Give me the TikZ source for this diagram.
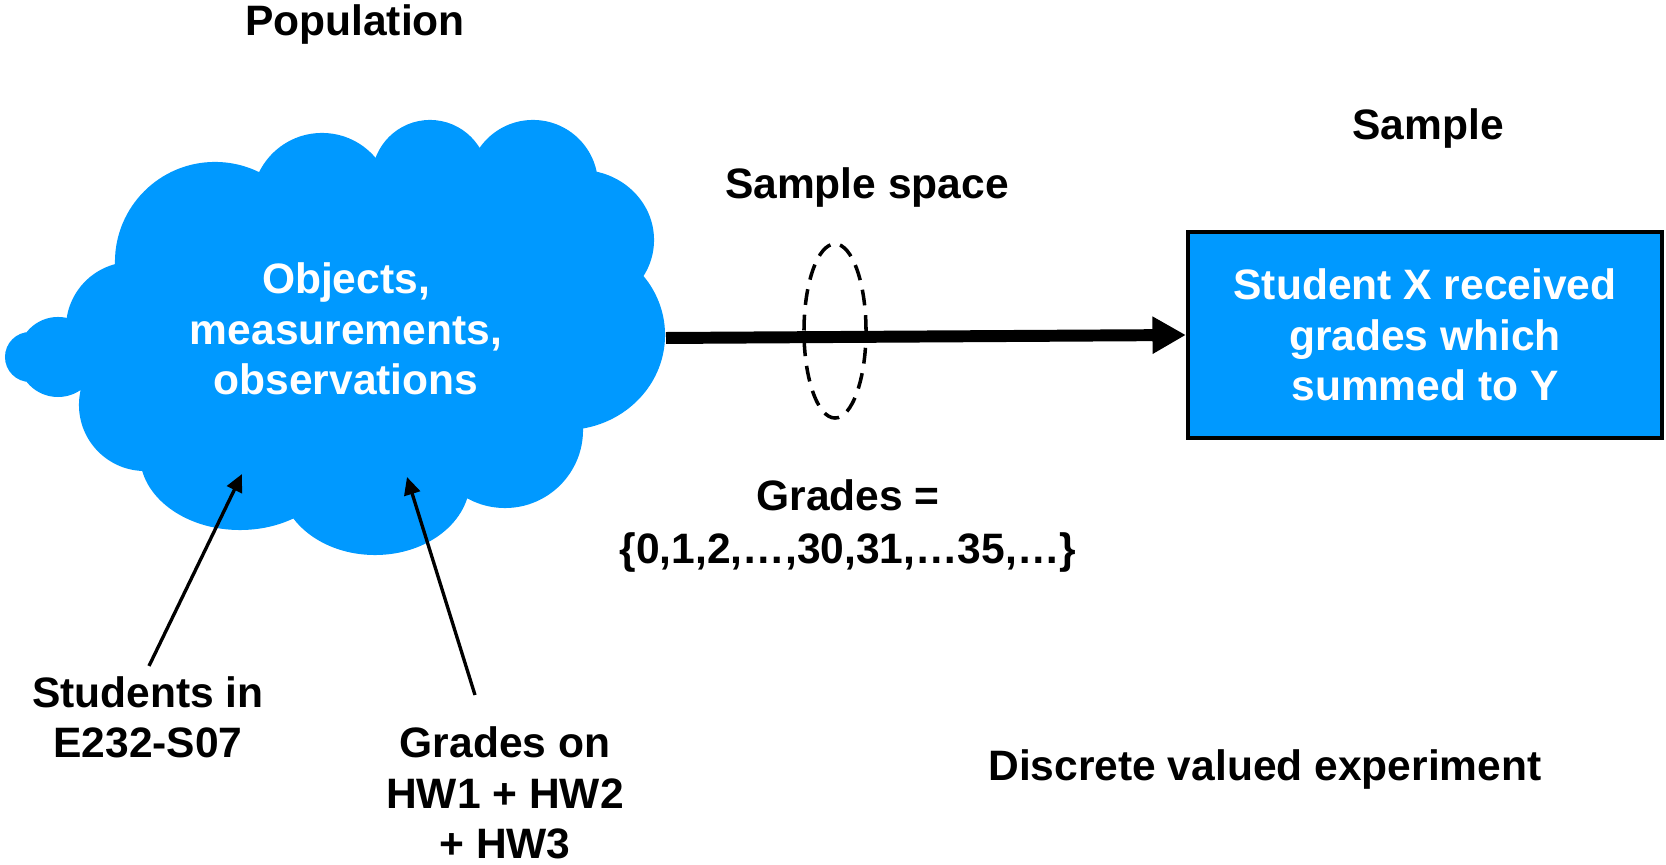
\documentclass[tikz,border=0pt]{standalone}
\usepackage{fontspec}
\setmainfont{Liberation Sans}
\usetikzlibrary{arrows.meta,shapes.geometric}
\definecolor{cloudblue}{RGB}{0,153,255}
\begin{document}
\begin{tikzpicture}[x=0.01cm,y=-0.01cm,
  lbl/.style={font=\fontsize{12.1}{14.3}\selectfont\bfseries, align=center, inner sep=0pt},
  wlbl/.style={lbl, text=white},
  thinarrow/.style={-{Triangle[length=5pt,width=4.6pt]}, line width=0.95pt},
  bigarrow/.style={-{Triangle[length=9.5pt,width=10pt]}, line width=3.4pt},
  dashell/.style={ellipse, draw=black, dash pattern=on 4.5pt off 2.8pt, line width=1pt, inner sep=0pt},
  bluebox/.style={draw=black, line width=1.14pt, fill=cloudblue, inner sep=0pt}]
\useasboundingbox (0,0) rectangle (1666,865);
% cloud
\fill[cloudblue]
  (360,330) ellipse [x radius=2.3cm, y radius=1.6cm]
  (215,262) circle [radius=1cm]
  (322,203) circle [radius=0.7cm]
  (430,178) circle [radius=0.58cm]
  (533,185) circle [radius=0.65cm]
  (580,240) ellipse [x radius=0.74cm, y radius=0.7cm]
  (565,335) ellipse [x radius=1cm, y radius=0.95cm]
  (505,430) circle [radius=0.78cm]
  (375,480) ellipse [x radius=0.95cm, y radius=0.75cm]
  (240,455) ellipse [x radius=1cm, y radius=0.75cm]
  (145,405) circle [radius=0.66cm]
  (30,357) circle [radius=0.25cm]
  (58,357) circle [radius=0.4cm]
  (132,328) circle [radius=0.66cm];
\node[wlbl] (obj) at (346,329) {Objects,\\measurements,\\observations};
% titles
\node[lbl] (pop) at (355,25) {Population};
\node[lbl] (samp) at (1428,129) {Sample};
\node[lbl] (sspace) at (867,188) {Sample space};
% sample box
\node[bluebox, minimum width=4.74cm, minimum height=2.06cm, text=white,
  font=\fontsize{12.1}{14.3}\selectfont\bfseries, align=center] (box) at (1425,335)
  {Student X received\\grades which\\summed to Y};
% big arrow
\coordinate (cr) at (666,338);
\draw[bigarrow] (cr) -- (box.west);
\node[dashell, minimum width=0.62cm, minimum height=1.74cm] (ss) at (835,331) {};
% labels
\node[lbl, font=\fontsize{12.1}{15.2}\selectfont\bfseries] (grades) at (848,526) {Grades =\\\{0,1,2,…,30,31,…35,…\}};
\node[lbl] (stud) at (148,717) {Students in\\E232-S07};
\node[lbl] (hw) at (505,793) {Grades on\\HW1 + HW2\\+ HW3};
\node[lbl] (disc) at (1265,770) {Discrete valued experiment};
% thin arrows
\coordinate (a1s) at (149,666);
\coordinate (a1e) at (242,474);
\coordinate (a2s) at (475,695);
\coordinate (a2e) at (407,477);
\draw[thinarrow] (a1s) -- (a1e);
\draw[thinarrow] (a2s) -- (a2e);
\end{tikzpicture}
\end{document}
